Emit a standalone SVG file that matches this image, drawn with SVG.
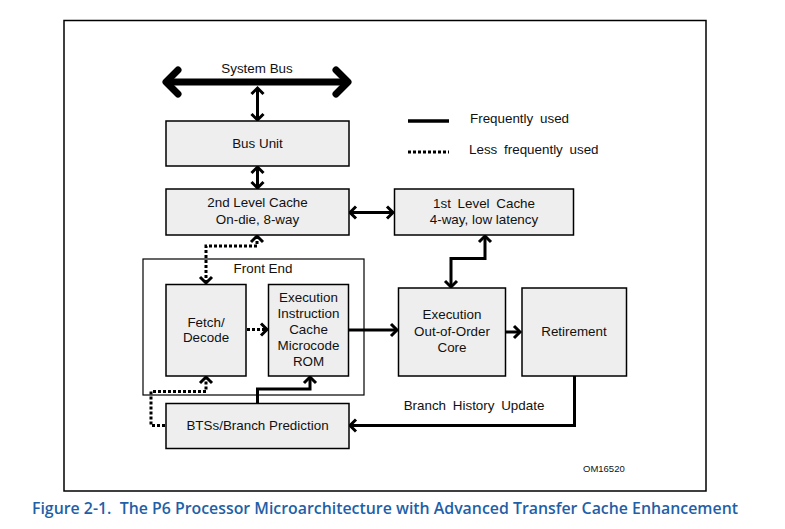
<svg xmlns="http://www.w3.org/2000/svg" width="785" height="529" viewBox="0 0 785 529">
<defs>
<style>
.box{fill:#eeeeee;stroke:#000;stroke-width:1.5}
.t{font-family:"Liberation Sans",Arial,sans-serif;font-size:13.4px;fill:#111;text-anchor:middle}
.c{fill:none;stroke:#000;stroke-width:3}
.d{fill:none;stroke:#000;stroke-width:3;stroke-dasharray:3 2}
</style>
<marker id="ah" markerUnits="userSpaceOnUse" viewBox="-10 -10 14 20" refX="0" refY="0" markerWidth="14" markerHeight="20" orient="auto-start-reverse" overflow="visible">
<path d="M-6,-6 L0,0 L-6,6" fill="none" stroke="#000" stroke-width="3"/>
</marker>
<marker id="big" markerUnits="userSpaceOnUse" viewBox="-20 -20 24 40" refX="0" refY="0" markerWidth="24" markerHeight="40" orient="auto-start-reverse" overflow="visible">
<path d="M-13,-12 L-1,0 L-13,12" fill="none" stroke="#000" stroke-width="7" stroke-linecap="round" stroke-linejoin="round"/>
</marker>
</defs>
<rect x="0" y="0" width="785" height="529" fill="#fff"/>
<rect x="64" y="20.5" width="642" height="470.5" fill="none" stroke="#000" stroke-width="1.5"/>

<g id="connectors">
<line x1="165" y1="82" x2="349" y2="82" stroke="#000" stroke-width="7" marker-start="url(#big)" marker-end="url(#big)"/>
<line class="c" x1="257.5" y1="88" x2="257.5" y2="120" marker-start="url(#ah)" marker-end="url(#ah)"/>
<line class="c" x1="257.5" y1="167" x2="257.5" y2="188" marker-start="url(#ah)" marker-end="url(#ah)"/>
<line class="c" x1="350" y1="212.5" x2="393" y2="212.5" marker-start="url(#ah)" marker-end="url(#ah)"/>
<path class="c" d="M485,236 V258.5 H451 V287" marker-start="url(#ah)" marker-end="url(#ah)"/>
<path class="d" d="M257,236 V246 H206 V283" marker-start="url(#ah)" marker-end="url(#ah)"/>
<line class="d" x1="247" y1="329.5" x2="267" y2="329.5" marker-end="url(#ah)"/>
<line class="c" x1="349" y1="330" x2="397" y2="330" marker-end="url(#ah)"/>
<line class="c" x1="506" y1="332" x2="520" y2="332" marker-end="url(#ah)"/>
<path class="c" d="M574.5,376 V425.5 H350" marker-end="url(#ah)"/>
<path class="c" d="M257.5,403 V389 H310 V377" marker-end="url(#ah)"/>
<path class="d" d="M165,425.5 H151 V391.5 H206 V377" marker-end="url(#ah)"/>
<line x1="408" y1="121" x2="449" y2="121" stroke="#000" stroke-width="3.5"/>
<line x1="408" y1="152" x2="449" y2="152" stroke="#000" stroke-width="3" stroke-dasharray="3 2"/>
</g>

<text class="t" x="257" y="73">System Bus</text>
<text class="t" x="470" y="123" style="text-anchor:start" word-spacing="3">Frequently used</text>
<text class="t" x="469" y="154" style="text-anchor:start" word-spacing="3">Less frequently used</text>

<g id="bus-unit"><rect class="box" x="166" y="121" width="183" height="45"/><text class="t" x="257.5" y="148">Bus Unit</text></g>
<g id="l2-cache"><rect class="box" x="166" y="189" width="183" height="46"/><text class="t" x="257.5" y="207">2nd Level Cache</text><text class="t" x="257.5" y="224">On-die, 8-way</text></g>
<g id="l1-cache"><rect class="box" x="394.5" y="189" width="179" height="46"/><text class="t" x="484" y="208" word-spacing="3">1st Level Cache</text><text class="t" x="484" y="224">4-way, low latency</text></g>
<g id="front-end"><rect x="143" y="259" width="221" height="136" fill="none" stroke="#000" stroke-width="1.2"/><text class="t" x="263" y="273">Front End</text></g>
<g id="fetch-decode"><rect class="box" x="166" y="284.5" width="80" height="91.5"/><text class="t" x="206" y="327">Fetch/</text><text class="t" x="206" y="342">Decode</text></g>
<g id="exec-icache"><rect class="box" x="268.5" y="284.5" width="80" height="91.5"/><text class="t" x="308.5" y="302">Execution</text><text class="t" x="308.5" y="318">Instruction</text><text class="t" x="308.5" y="334">Cache</text><text class="t" x="308.5" y="350">Microcode</text><text class="t" x="308.5" y="366">ROM</text></g>
<g id="ooo-core"><rect class="box" x="398.5" y="288" width="107" height="88"/><text class="t" x="452" y="319">Execution</text><text class="t" x="452" y="336">Out-of-Order</text><text class="t" x="452" y="352">Core</text></g>
<g id="retirement"><rect class="box" x="522" y="288" width="104.5" height="88"/><text class="t" x="574" y="336">Retirement</text></g>
<g id="bts"><rect class="box" x="166" y="403.5" width="183" height="45"/><text class="t" x="257.5" y="430">BTSs/Branch Prediction</text></g>

<text class="t" x="474" y="410" word-spacing="3">Branch History Update</text>
<text x="583" y="472" font-family="Liberation Sans,Arial,sans-serif" font-size="9.5" fill="#111">OM16520</text>
<text x="32" y="514" font-family="'Open Sans','Noto Sans',sans-serif" font-weight="600" font-size="16.5" fill="#1f5fa8" style="white-space:pre" textLength="706" lengthAdjust="spacingAndGlyphs">Figure 2-1.  The P6 Processor Microarchitecture with Advanced Transfer Cache Enhancement</text>
</svg>
